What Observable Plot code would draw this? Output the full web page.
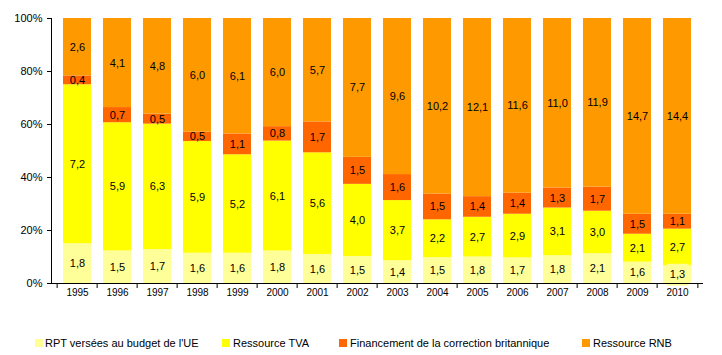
<!DOCTYPE html>
<html><head><meta charset="utf-8">
<script src="https://cdn.jsdelivr.net/npm/d3@7"></script>
<script src="https://cdn.jsdelivr.net/npm/@observablehq/plot@0.6"></script>
<style>
body{margin:0;background:#fff;font-family:"Liberation Sans",Arial,sans-serif;}
#legend{position:relative;width:722px;height:45px;font-size:11px;color:#000;}
#legend .sw{position:absolute;top:29px;width:8px;height:8px;}
#legend .lb{position:absolute;top:27px;line-height:12px;white-space:nowrap;}
</style></head><body>
<div id="chart"></div>
<div id="legend"></div>
<script>
const years = ["1995","1996","1997","1998","1999","2000","2001","2002","2003","2004","2005","2006","2007","2008","2009","2010"];
const series = ["RPT versées au budget de l'UE","Ressource TVA","Financement de la correction britannique","Ressource RNB"];
const colors = ["#FFFF99","#FFFF00","#FF6600","#FF9900"];
const rpt  = [1.8,1.5,1.7,1.6,1.6,1.8,1.6,1.5,1.4,1.5,1.8,1.7,1.8,2.1,1.6,1.3];
const tva  = [7.2,5.9,6.3,5.9,5.2,6.1,5.6,4.0,3.7,2.2,2.7,2.9,3.1,3.0,2.1,2.7];
const corr = [0.4,0.7,0.5,0.5,1.1,0.8,1.7,1.5,1.6,1.5,1.4,1.4,1.3,1.7,1.5,1.1];
const rnb  = [2.6,4.1,4.8,6.0,6.1,6.0,5.7,7.7,9.6,10.2,12.1,11.6,11.0,11.9,14.7,14.4];
const yTicks = [0,0.2,0.4,0.6,0.8,1];

const valuesBySeries = [rpt, tva, corr, rnb];
const rows = [];
years.forEach((yr, i) => {
  series.forEach((s, j) => rows.push({year: yr, series: s, value: valuesBySeries[j][i], first: j === 0 ? 1 : 0}));
});
const fmt = v => d3.format(".1f")(v).replace(".", ",");

const W = 722, H = 310, ML = 51, MR = 19, MT = 18, MB = 27;
const step = (W - ML - MR) / years.length;
const font = "'Liberation Sans', Arial, sans-serif";

const chart = Plot.plot({
  width: W, height: H,
  marginLeft: ML, marginRight: MR, marginTop: MT, marginBottom: MB,
  style: {fontFamily: font, fontSize: "11px", color: "#000", background: "#fff"},
  x: {domain: years, paddingInner: 0.31, paddingOuter: 0.155, axis: null},
  y: {domain: [0, 1], axis: null, label: null},
  color: {domain: series, range: colors},
  opacity: {domain: [0, 1], range: [0, 1]},
  marks: [
    Plot.rectY(rows, Plot.stackY({x: "year", y: "value", z: "series", fill: "series", offset: "normalize"})),
    Plot.dot(rows, Plot.stackY({x: "year", y: "value", z: "series", offset: "normalize", symbol: "square", r: 12.3, fill: colors[0], fillOpacity: "first", stroke: "none"})),
    Plot.text(rows, Plot.stackY({x: "year", y: "value", z: "series", offset: "normalize", text: d => fmt(d.value), fill: "#000", fontSize: 11})),
    Plot.ruleY([0], {stroke: "#000"}),
    Plot.frame({anchor: "left", stroke: "#000"}),
    Plot.axisY({ticks: yTicks, tickFormat: d3.format(".0%"), tickSize: 4, tickPadding: 5, label: null, fontSize: 11, stroke: "#000"}),
    Plot.axisX({tickSize: 0, tickPadding: 5, label: null, fontSize: 10}),
    Plot.axisX({ticks: years, tickSize: 5, dx: -step / 2, tickFormat: () => "", label: null, stroke: "#000"}),
    Plot.axisX({ticks: [years[years.length - 1]], tickSize: 5, dx: step / 2, tickFormat: () => "", label: null, stroke: "#000"})
  ]
});
document.getElementById("chart").appendChild(chart);

const legendPos = [[35, 45], [222, 233], [339, 350], [582, 593]];
const leg = document.getElementById("legend");
series.forEach((s, i) => {
  const sw = document.createElement("div");
  sw.className = "sw"; sw.style.left = legendPos[i][0] + "px"; sw.style.background = colors[i];
  const lb = document.createElement("div");
  lb.className = "lb"; lb.style.left = legendPos[i][1] + "px"; lb.textContent = s;
  leg.appendChild(sw); leg.appendChild(lb);
});
</script>
</body></html>
